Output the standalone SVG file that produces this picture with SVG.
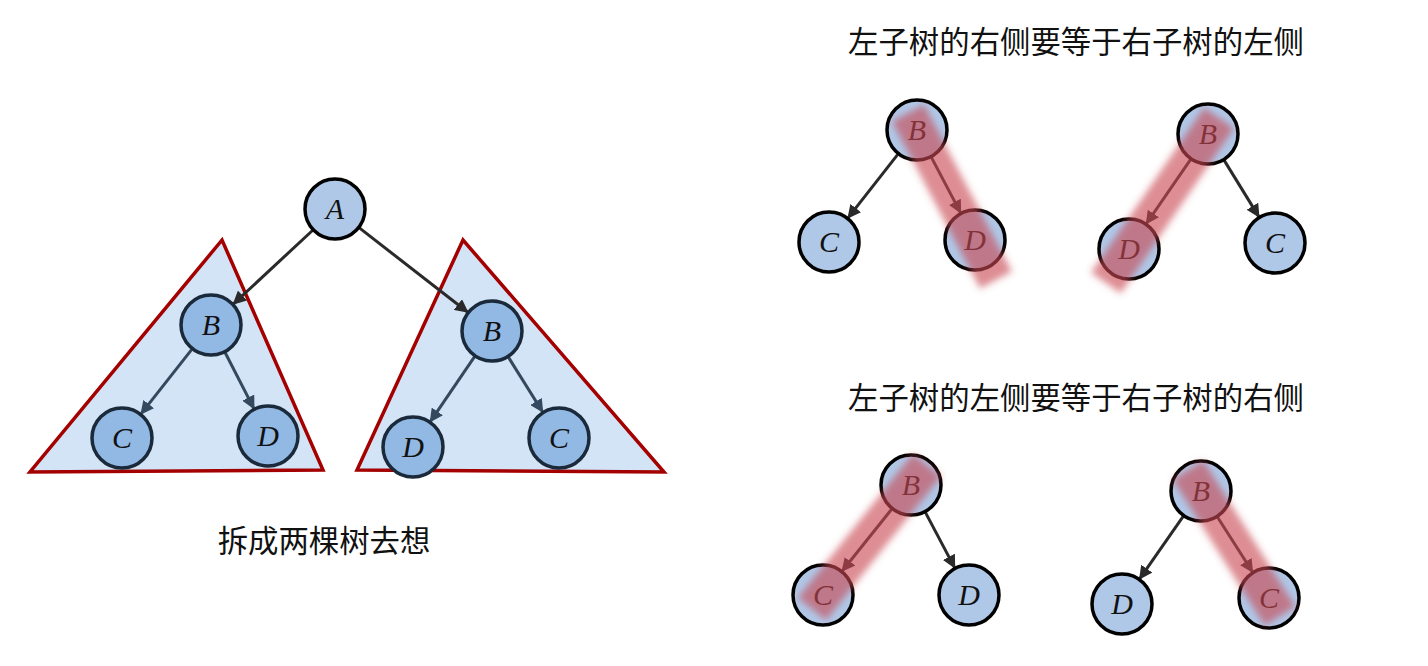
<svg xmlns="http://www.w3.org/2000/svg" width="1428" height="666" viewBox="0 0 1428 666">
<defs>
<style>
.n{fill:#b0c8e8;stroke:#000;stroke-width:3.5}
.ni{fill:#92b8e4;stroke:#1a2a3a;stroke-width:3.5}
.t{font-family:"Liberation Serif",serif;font-style:italic;font-size:30px;text-anchor:middle;fill:#111}
.e{stroke:#2a2a2a;stroke-width:3;fill:none;marker-end:url(#ah)}
.ei{stroke:#34495e;stroke-width:3;fill:none;marker-end:url(#ahi)}
.tri{fill:#d2e4f5;stroke:#a50000;stroke-width:3.5;stroke-linejoin:miter}
.cap{font-family:"Noto Sans CJK SC","Noto Sans CJK JP",sans-serif;font-size:30.4px;fill:#111;text-anchor:middle}
.band{stroke:#c84650;stroke-width:36;stroke-opacity:0.62;filter:url(#blur);stroke-linecap:butt}
</style>
<marker id="ah" viewBox="0 0 10 10" refX="9" refY="5" markerWidth="4.5" markerHeight="4.5" orient="auto" markerUnits="strokeWidth"><path d="M0,0 L10,5 L0,10 z" fill="#2a2a2a"/></marker>
<marker id="ahi" viewBox="0 0 10 10" refX="9" refY="5" markerWidth="4.5" markerHeight="4.5" orient="auto" markerUnits="strokeWidth"><path d="M0,0 L10,5 L0,10 z" fill="#34495e"/></marker>
<filter id="blur" filterUnits="userSpaceOnUse" x="0" y="0" width="1428" height="666"><feGaussianBlur stdDeviation="3.5"/></filter>
</defs>
<rect width="1428" height="666" fill="#fff"/>

<g id="triangles">
<polygon class="tri" points="222,240 30,472 323,470"/>
<polygon class="tri" points="463,240 357,470 664,472"/>
</g>

<g id="connectors">
<line class="e" x1="313" y1="230" x2="233.6" y2="303.8"/>
<line class="e" x1="358.7" y1="227.4" x2="467.5" y2="312"/>
<line class="ei" x1="192.4" y1="348.6" x2="141.2" y2="413.6"/>
<line class="ei" x1="224.7" y1="351.7" x2="253.8" y2="408.4"/>
<line class="ei" x1="475.1" y1="355.8" x2="430.5" y2="421.4"/>
<line class="ei" x1="507.9" y1="356.4" x2="542.5" y2="411.7"/>

<line class="e" x1="897.8" y1="154.4" x2="848.2" y2="217.6"/>
<line class="e" x1="931.4" y1="157.4" x2="960.5" y2="212.6"/>
<line class="e" x1="1190.5" y1="159.6" x2="1146.5" y2="223.5"/>
<line class="e" x1="1224.2" y1="160.4" x2="1258.8" y2="216.6"/>
<line class="e" x1="891.6" y1="509.2" x2="842.4" y2="570.8"/>
<line class="e" x1="925.4" y1="512.4" x2="954.6" y2="567.6"/>
<line class="e" x1="1183.2" y1="516.4" x2="1139.8" y2="578.6"/>
<line class="e" x1="1217.6" y1="517.2" x2="1252.4" y2="571.8"/>
</g>

<g id="node-A"><circle class="n" cx="335" cy="209" r="30"/><text class="t" x="335" y="219">A</text></g>
<g id="node-LB"><circle class="ni" cx="211" cy="325" r="30"/><text class="t" x="211" y="335">B</text></g>
<g id="node-LC"><circle class="ni" cx="122" cy="438" r="30"/><text class="t" x="122" y="448">C</text></g>
<g id="node-LD"><circle class="ni" cx="268" cy="436" r="30"/><text class="t" x="268" y="446">D</text></g>
<g id="node-RB"><circle class="ni" cx="492" cy="331" r="30"/><text class="t" x="492" y="341">B</text></g>
<g id="node-RD"><circle class="ni" cx="413" cy="447" r="30"/><text class="t" x="413" y="457">D</text></g>
<g id="node-RC"><circle class="ni" cx="559" cy="438" r="30"/><text class="t" x="559" y="448">C</text></g>

<g id="node-TL-B"><circle class="n" cx="917" cy="130" r="30"/><text class="t" x="917" y="140">B</text></g>
<g id="node-TL-C"><circle class="n" cx="829" cy="242" r="30"/><text class="t" x="829" y="252">C</text></g>
<g id="node-TL-D"><circle class="n" cx="975" cy="240" r="30"/><text class="t" x="975" y="250">D</text></g>
<g id="node-TR-B"><circle class="n" cx="1208" cy="134" r="30"/><text class="t" x="1208" y="144">B</text></g>
<g id="node-TR-D"><circle class="n" cx="1129" cy="249" r="30"/><text class="t" x="1129" y="259">D</text></g>
<g id="node-TR-C"><circle class="n" cx="1275" cy="243" r="30"/><text class="t" x="1275" y="253">C</text></g>
<g id="node-BL-B"><circle class="n" cx="911" cy="485" r="30"/><text class="t" x="911" y="495">B</text></g>
<g id="node-BL-C"><circle class="n" cx="823" cy="595" r="30"/><text class="t" x="823" y="605">C</text></g>
<g id="node-BL-D"><circle class="n" cx="969" cy="595" r="30"/><text class="t" x="969" y="605">D</text></g>
<g id="node-BR-B"><circle class="n" cx="1201" cy="491" r="30"/><text class="t" x="1201" y="501">B</text></g>
<g id="node-BR-D"><circle class="n" cx="1122" cy="604" r="30"/><text class="t" x="1122" y="614">D</text></g>
<g id="node-BR-C"><circle class="n" cx="1269" cy="598" r="30"/><text class="t" x="1269" y="608">C</text></g>

<g id="highlights">
<line class="band" x1="908" y1="113" x2="996" y2="280"/>
<line class="band" x1="1219" y1="118" x2="1106" y2="283"/>
<line class="band" x1="927" y1="465" x2="812" y2="609"/>
<line class="band" x1="1188" y1="470" x2="1280" y2="616"/>
</g>

<g id="labels">
<text class="cap" x="324" y="552">拆成两棵树去想</text>
<text class="cap" x="1076" y="53">左子树的右侧要等于右子树的左侧</text>
<text class="cap" x="1076" y="409">左子树的左侧要等于右子树的右侧</text>
</g>
</svg>
